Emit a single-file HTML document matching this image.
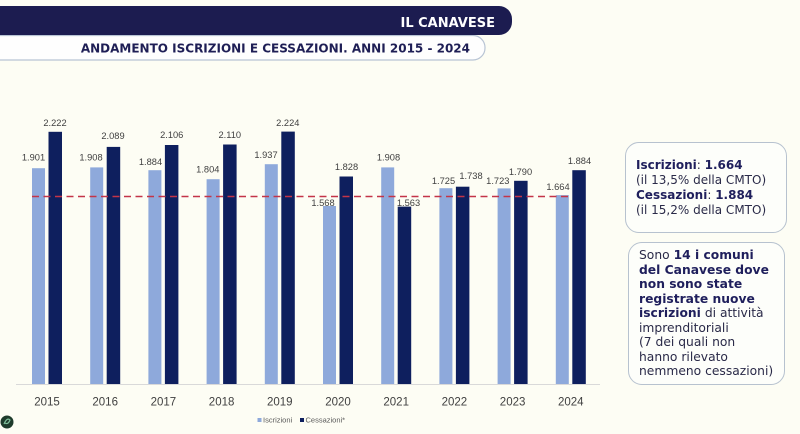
<!DOCTYPE html>
<html><head><meta charset="utf-8"><style>
html,body{margin:0;padding:0;}
body{width:800px;height:434px;background:#fdfdf4;position:relative;overflow:hidden;font-family:"DejaVu Sans","Liberation Sans",sans-serif;}
svg{position:absolute;left:0;top:0;}
.box{position:absolute;box-sizing:border-box;border:1.5px solid #b7c2cf;border-radius:14px;background:#fdfefa;color:#2a2a48;font-family:"DejaVu Sans",sans-serif;font-size:12px;white-space:nowrap;}
.box b{color:#1f1f5c;}
#b1{left:625px;top:142px;width:162px;height:91px;padding:0 0 0 10px;line-height:15px;display:flex;flex-direction:column;justify-content:center;}
#b2{left:628px;top:242px;width:157px;height:143px;padding:5px 0 0 10px;line-height:14.5px;font-size:12.3px;}
</style></head><body>
<svg width="800" height="434" viewBox="0 0 800 434" xmlns="http://www.w3.org/2000/svg">
  <!-- subtitle pill -->
  <path d="M-2 35.5 H473 A12 12 0 0 1 485 47.5 V48 A12 12 0 0 1 473 60 H-2" fill="#fefefe" stroke="#b8c4d4" stroke-width="1.2"/>
  <!-- header banner -->
  <path d="M0 6 H499 A13 13 0 0 1 512 19 V22 A13 13 0 0 1 499 35 H0 Z" fill="#1c1c50"/>
  <text x="495" y="27" text-anchor="end" font-family="DejaVu Sans, sans-serif" font-weight="bold" font-size="13" fill="#ffffff">IL CANAVESE</text>
  <text x="470" y="52.5" text-anchor="end" font-family="DejaVu Sans, sans-serif" font-weight="bold" font-size="12" fill="#1e1e55">ANDAMENTO ISCRIZIONI E CESSAZIONI. ANNI 2015 - 2024</text>

  <!-- baseline -->
  <line x1="16" y1="384.5" x2="600" y2="384.5" stroke="#d9d9d9" stroke-width="1"/>

  <!-- light bars (Iscrizioni) -->
  <g fill="#8ea9db">
    <rect x="32" y="168.2" width="13" height="215.8"/>
    <rect x="90.2" y="167.4" width="13" height="216.6"/>
    <rect x="148.4" y="170.2" width="13" height="213.8"/>
    <rect x="206.6" y="179.2" width="13" height="204.8"/>
    <rect x="264.8" y="164.2" width="13" height="219.8"/>
    <rect x="323" y="206" width="13" height="178"/>
    <rect x="381.2" y="167.4" width="13" height="216.6"/>
    <rect x="439.4" y="188.2" width="13" height="195.8"/>
    <rect x="497.6" y="188.4" width="13" height="195.6"/>
    <rect x="555.8" y="195.1" width="13" height="188.9"/>
  </g>
  <!-- dark bars (Cessazioni) -->
  <g fill="#0e1f5e">
    <rect x="48.5" y="131.8" width="13.5" height="252.2"/>
    <rect x="106.7" y="146.9" width="13.5" height="237.1"/>
    <rect x="164.9" y="145" width="13.5" height="239"/>
    <rect x="223.1" y="144.5" width="13.5" height="239.5"/>
    <rect x="281.3" y="131.6" width="13.5" height="252.4"/>
    <rect x="339.5" y="176.5" width="13.5" height="207.5"/>
    <rect x="397.7" y="206.6" width="13.5" height="177.4"/>
    <rect x="455.9" y="186.7" width="13.5" height="197.3"/>
    <rect x="514.1" y="180.8" width="13.5" height="203.2"/>
    <rect x="572.3" y="170.2" width="13.5" height="213.8"/>
  </g>

  <!-- dashed reference line -->
  <line x1="32" y1="196.5" x2="568" y2="196.5" stroke="#c43448" stroke-width="1.4" stroke-dasharray="7 4.5"/>

  <!-- value labels -->
  <g font-family="Liberation Sans, sans-serif" font-size="9.3" fill="#404040" text-anchor="middle">
    <text x="33.5" y="160.5">1.901</text>
    <text x="91" y="160.5">1.908</text>
    <text x="150.5" y="164.9">1.884</text>
    <text x="207.8" y="172.5">1.804</text>
    <text x="266" y="158.2">1.937</text>
    <text x="323" y="206.2">1.568</text>
    <text x="388.5" y="160.5">1.908</text>
    <text x="443.5" y="183.9">1.725</text>
    <text x="497.8" y="183.9">1.723</text>
    <text x="558" y="189.9">1.664</text>

    <text x="55" y="125.9">2.222</text>
    <text x="113" y="139.2">2.089</text>
    <text x="171.7" y="138.2">2.106</text>
    <text x="229.8" y="138.2">2.110</text>
    <text x="287.8" y="125.9">2.224</text>
    <text x="346.5" y="169.9">1.828</text>
    <text x="408.5" y="206.2">1.563</text>
    <text x="471" y="179.2">1.738</text>
    <text x="520.5" y="174.9">1.790</text>
    <text x="579.5" y="163.9">1.884</text>
  </g>

  <!-- year labels -->
  <g font-family="Liberation Sans, sans-serif" font-size="11.5" fill="#404040" text-anchor="middle">
    <text x="47" y="405.5">2015</text>
    <text x="105.2" y="405.5">2016</text>
    <text x="163.4" y="405.5">2017</text>
    <text x="221.6" y="405.5">2018</text>
    <text x="279.8" y="405.5">2019</text>
    <text x="338" y="405.5">2020</text>
    <text x="396.2" y="405.5">2021</text>
    <text x="454.4" y="405.5">2022</text>
    <text x="512.6" y="405.5">2023</text>
    <text x="570.8" y="405.5">2024</text>
  </g>

  <!-- legend -->
  <rect x="257.5" y="418" width="4" height="4" fill="#8ea9db"/>
  <text x="263" y="422.5" font-family="Liberation Sans, sans-serif" font-size="7.5" fill="#595959">Iscrizioni</text>
  <rect x="300" y="418" width="4" height="4" fill="#0e1f5e"/>
  <text x="305.5" y="422.5" font-family="Liberation Sans, sans-serif" font-size="7.5" fill="#595959">Cessazioni*</text>

  <!-- bottom-left logo -->
  <circle cx="7" cy="422" r="6.5" fill="#1e3b2b"/>
  <path d="M4 424 Q7 417 10 420 Q8 425 5 423" fill="none" stroke="#7fbf9a" stroke-width="1.2"/>
</svg>

<div class="box" id="b1">
  <div><b>Iscrizioni</b>: <b>1.664</b></div>
  <div>(il 13,5% della CMTO)</div>
  <div><b>Cessazioni</b>: <b>1.884</b></div>
  <div>(il 15,2% della CMTO)</div>
</div>
<div class="box" id="b2">
  <div>Sono <b>14 i comuni</b></div>
  <div><b>del Canavese dove</b></div>
  <div><b>non sono state</b></div>
  <div><b>registrate nuove</b></div>
  <div><b>iscrizioni</b> di attività</div>
  <div>imprenditoriali</div>
  <div>(7 dei quali non</div>
  <div>hanno rilevato</div>
  <div>nemmeno cessazioni)</div>
</div>
</body></html>
